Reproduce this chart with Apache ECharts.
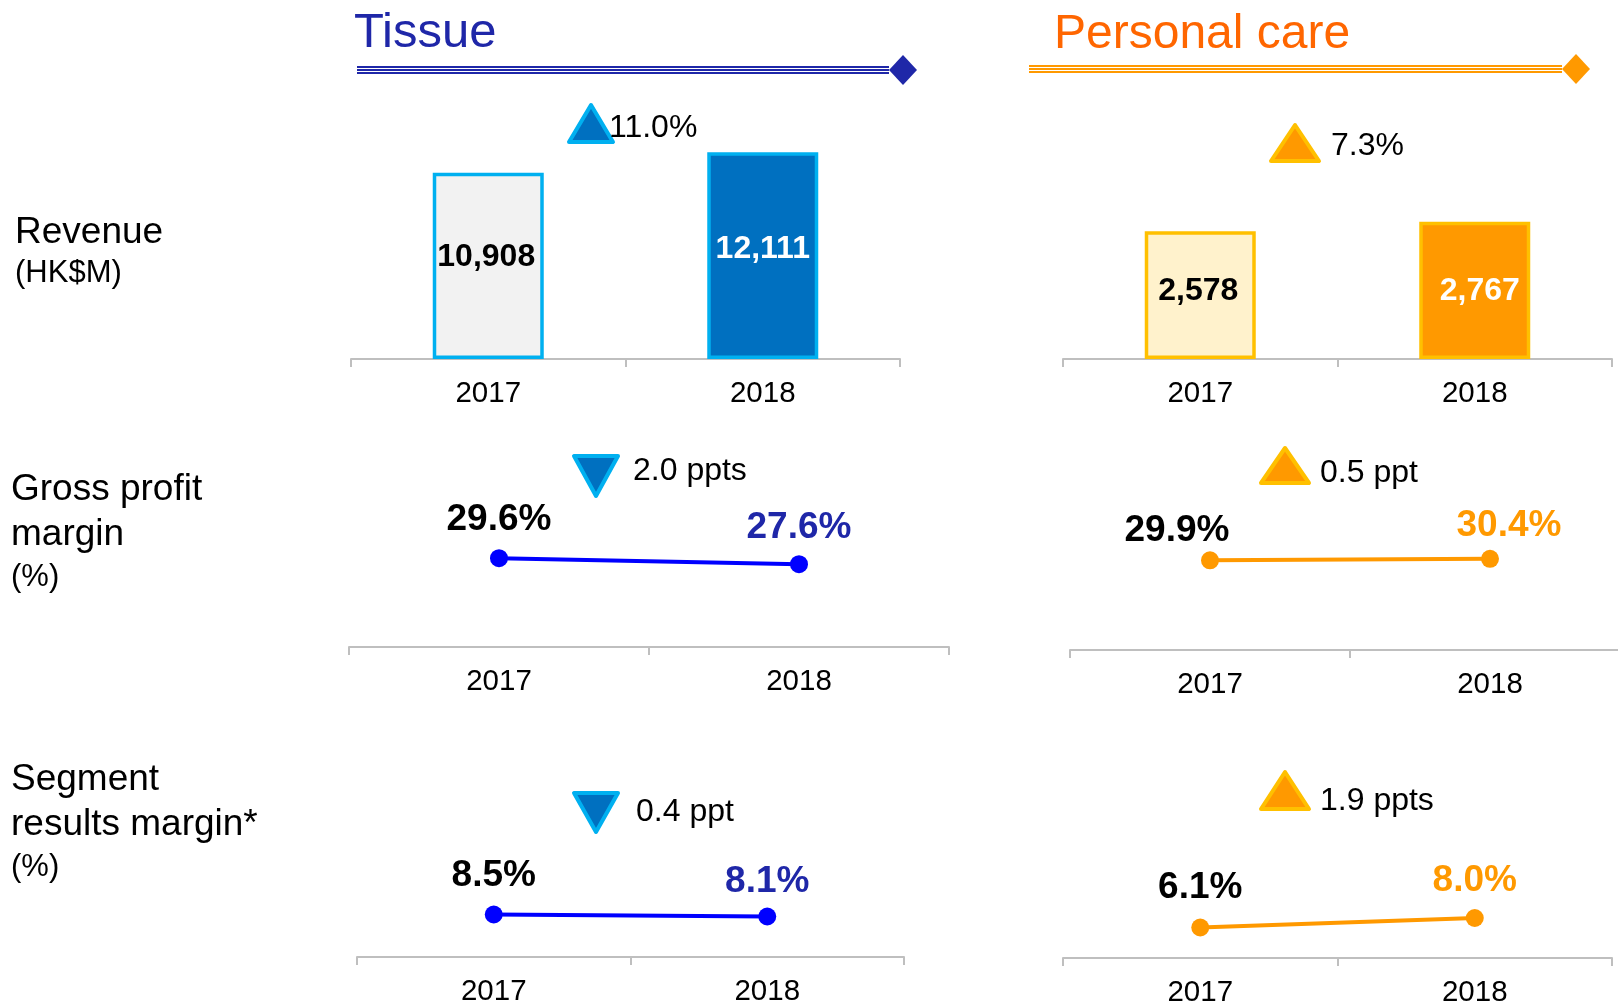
<!DOCTYPE html>
<html>
<head>
<meta charset="utf-8">
<script src="https://cdn.jsdelivr.net/npm/echarts@6/dist/echarts.min.js"></script>
<style>
html,body{margin:0;padding:0;background:#fff;}
#c{width:1618px;height:1003px;}
</style>
</head>
<body>
<div id="c"></div>
<script>
// ---- data ----
var years = ['2017', '2018'];
var tissueRevenue = [10908, 12111];
var personalRevenue = [2578, 2767];
var tissueGPM = [29.6, 27.6];
var personalGPM = [29.9, 30.4];
var tissueSRM = [8.5, 8.1];
var personalSRM = [6.1, 8.0];
var deltaTexts = ['11.0%', '7.3%', '2.0 ppts', '0.5 ppt', '0.4 ppt', '1.9 ppts'];
var rowLabels = [['Revenue', '(HK$M)'], ['Gross profit', 'margin', '(%)'], ['Segment', 'results margin*', '(%)']];
var segmentTitles = ['Tissue', 'Personal care'];

// ---- styling ----
var FONT = '"Liberation Sans", Arial, Helvetica, sans-serif';
var NAVY = '#1F27A8';
var BLUE_LINE = '#0000FF';
var CYAN = '#00B0F0';
var TBLUE = '#0070C0';
var ORANGE_T = '#FF6600';
var ORANGE = '#FF9900';
var GOLD = '#FFC000';
var AXIS_GREY = '#BFBFBF';

var grids = [
  {left: 351, top: 103, width: 549, height: 256},   // tissue revenue
  {left: 1063, top: 111, width: 549, height: 248},  // personal revenue
  {left: 349, top: 497, width: 600, height: 150},   // tissue GPM
  {left: 1070, top: 500, width: 560, height: 150},  // personal GPM
  {left: 357, top: 857, width: 547, height: 100},   // tissue SRM
  {left: 1063, top: 858, width: 549, height: 100}   // personal SRM
].map(function (g) { g.outerBoundsMode = 'none'; g.containLabel = false; return g; });
var yMax = [15000, 5000, 50, 50, 20, 20];

var xAxes = grids.map(function (g, i) {
  return {
    type: 'category', gridIndex: i, data: years, boundaryGap: true,
    axisLine: {show: true, lineStyle: {color: AXIS_GREY, width: 2}},
    axisTick: {show: true, length: 8, lineStyle: {color: AXIS_GREY, width: 2}},
    axisLabel: {color: '#000', fontSize: 29.5, fontFamily: FONT, margin: 20}
  };
});
var yAxes = grids.map(function (g, i) {
  return {type: 'value', gridIndex: i, min: 0, max: yMax[i], show: false, splitLine: {show: false}};
});

function fmtNum(v) { return v.toLocaleString('en-US'); }

function barSeries(idx, values, fills, border, labelColors, offsets) {
  return {
    type: 'bar', xAxisIndex: idx, yAxisIndex: idx, barWidth: 111,
    data: values.map(function (v, k) {
      return {
        value: v,
        itemStyle: {color: fills[k], borderColor: border, borderWidth: 3.5},
        label: {show: true, position: 'inside', color: labelColors[k], offset: offsets[k],
                fontSize: 32, fontWeight: 'bold', fontFamily: FONT,
                formatter: function (p) { return fmtNum(p.value); }}
      };
    }),
    animation: false
  };
}

function lineSeries(idx, values, lineColor, labelColors, offsets) {
  return {
    type: 'line', xAxisIndex: idx, yAxisIndex: idx,
    symbol: 'circle', symbolSize: 18,
    lineStyle: {color: lineColor, width: 4},
    itemStyle: {color: lineColor},
    data: values.map(function (v, k) {
      return {
        value: v,
        label: {show: true, position: 'top', distance: 12, offset: offsets[k], color: labelColors[k],
                fontSize: 37, fontWeight: 'bold', fontFamily: FONT,
                formatter: function (p) { return p.value.toFixed(1) + '%'; }}
      };
    }),
    animation: false
  };
}

var series = [
  barSeries(0, tissueRevenue, ['#F2F2F2', TBLUE], CYAN, ['#000', '#fff'], [[-2, -9], [0, -6]]),
  barSeries(1, personalRevenue, ['#FFF2CC', ORANGE], GOLD, ['#000', '#fff'], [[-2, -4], [5, 1]]),
  lineSeries(2, tissueGPM, BLUE_LINE, ['#000', NAVY], [[0, 1], [0, 3]]),
  lineSeries(3, personalGPM, ORANGE, ['#000', ORANGE], [[-33, 10], [19, 6]]),
  lineSeries(4, tissueSRM, BLUE_LINE, ['#000', NAVY], [[0, 1], [0, 5]]),
  lineSeries(5, personalSRM, ORANGE, ['#000', ORANGE], [[0, 0], [0, 2]])
];

// ---- decorations ----
var graphics = [];
function text(x, y, str, size, color, weight) {
  graphics.push({type: 'text', x: x, y: y, style: {text: str, fill: color, font: (weight || 'normal') + ' ' + size + 'px ' + FONT, textVerticalAlign: 'middle', textAlign: 'left'}});
}
function headerRule(x1, x2, yMid, color, dx, dy) {
  [-3, 0, 3].forEach(function (o) {
    graphics.push({type: 'line', shape: {x1: x1, y1: yMid + o, x2: x2, y2: yMid + o}, style: {stroke: color, lineWidth: 2}});
  });
  graphics.push({type: 'polygon', shape: {points: [[x2 + dx, yMid - dy], [x2 + 2 * dx, yMid], [x2 + dx, yMid + dy], [x2, yMid]]}, style: {fill: color}});
}
function triangle(cx, top, bottom, halfW, up, fill, stroke) {
  var pts = up ? [[cx, top], [cx + halfW, bottom], [cx - halfW, bottom]]
               : [[cx - halfW, top], [cx + halfW, top], [cx, bottom]];
  graphics.push({type: 'polygon', shape: {points: pts}, style: {fill: fill, stroke: stroke, lineWidth: 4, lineJoin: 'round'}});
}

// segment headers
text(354, 33, segmentTitles[0], 49, NAVY);
headerRule(357, 889, 70, NAVY, 14, 15);
text(1054, 35, segmentTitles[1], 48, ORANGE_T);
headerRule(1029, 1562, 69, ORANGE, 14, 15);

// row labels
text(15, 233, rowLabels[0][0], 37, '#000');
text(15, 273, rowLabels[0][1], 31, '#000');
text(11, 490, rowLabels[1][0], 37, '#000');
text(11, 535, rowLabels[1][1], 37, '#000');
text(11, 577, rowLabels[1][2], 31, '#000');
text(11, 780, rowLabels[2][0], 37, '#000');
text(11, 825, rowLabels[2][1], 37, '#000');
text(11, 867, rowLabels[2][2], 31, '#000');

// change indicators
triangle(591, 105, 142, 22, true, TBLUE, CYAN);
text(609, 128, deltaTexts[0], 32, '#000');
triangle(1295, 125, 161, 24, true, ORANGE, GOLD);
text(1331, 146, deltaTexts[1], 32, '#000');
triangle(596, 456, 496, 22, false, TBLUE, CYAN);
text(633, 471, deltaTexts[2], 32, '#000');
triangle(1285, 448, 483, 24, true, ORANGE, GOLD);
text(1320, 473, deltaTexts[3], 32, '#000');
triangle(596, 793, 832, 22, false, TBLUE, CYAN);
text(636, 812, deltaTexts[4], 32, '#000');
triangle(1285, 772, 809, 24, true, ORANGE, GOLD);
text(1320, 801, deltaTexts[5], 32, '#000');

var chart = echarts.init(document.getElementById('c'), null, {renderer: 'canvas'});
chart.setOption({
  backgroundColor: '#fff',
  animation: false,
  grid: grids,
  xAxis: xAxes,
  yAxis: yAxes,
  series: series,
  graphic: graphics
});
</script>
</body>
</html>
